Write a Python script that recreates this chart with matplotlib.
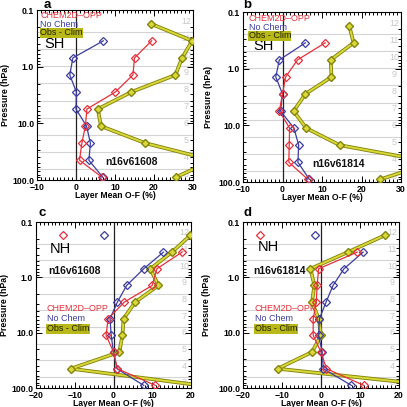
import numpy as np
import matplotlib
matplotlib.use("Agg")
import matplotlib.pyplot as plt
from matplotlib.ticker import MultipleLocator, LogLocator, NullFormatter

plt.rcParams['font.family'] = ['Liberation Sans', 'DejaVu Sans']

# SBUV layers (3 = bottom, 12 = top), plotted at layer mid pressures
layers = [3, 4, 5, 6, 7, 8, 9, 10, 11, 12]
p_mid = [89.7, 44.8, 22.4, 11.2, 5.6, 2.8, 1.4, 0.70, 0.35, 0.175]
p_edges = [63.3, 31.7, 15.8, 7.92, 3.96, 1.98, 0.99, 0.495, 0.247]

nan = np.nan
# panel a : SH n16v61608
a_chem = [6.7, 0.9, 1.5, 2.4, 2.8, 10.1, 14.6, 15.0, 19.4, nan]
a_nochem = [6.9, 3.3, 3.7, 2.7, 0.0, 0.1, -1.6, -0.8, 7.0, nan]
a_obs = [25.6, 35.0, 17.8, 6.4, 5.6, 14.2, 25.5, 27.2, 29.8, 19.2]
# panel b : SH n16v61814
b_chem = [6.4, 1.6, 1.7, 1.8, -0.8, 0.0, 0.8, 3.8, 10.8, nan]
b_nochem = [6.8, 3.9, 4.1, 2.9, -0.5, 0.0, -1.7, -0.8, 5.8, nan]
b_obs = [24.8, 38.0, 14.5, 6.0, 2.8, 5.8, 12.4, 12.2, 18.0, 16.9]
# panel c : NH n16v61608
c_chem = [10.8, 1.0, 0.0, -1.9, -1.4, 2.8, 10.0, 11.2, 17.7, -13.0]
c_nochem = [7.8, 0.9, 0.0, -0.6, -0.9, 1.0, 3.4, 7.8, 12.9, -2.4]
c_obs = [22.5, -11.0, 1.5, 2.3, 2.6, 5.6, 11.6, 9.5, 15.1, 19.8]
# panel d : NH n16v61814
d_chem = [11.0, 1.4, 0.0, -2.0, -2.0, -1.2, -1.0, -0.6, 9.3, -15.7]
d_nochem = [7.8, 0.6, 0.3, -0.6, -0.4, 1.3, 3.1, 5.9, 10.8, -1.6]
d_obs = [29.0, -11.1, -2.3, 0.0, -0.6, -2.3, -1.7, -2.7, 6.9, 16.3]

RED = '#e6303a'
BLUE = '#3c3ca0'
YEL = '#d8d838'
OLIVE = '#84840c'

W = 407.0


def pos(left, top, right, bottom):
    return [left / W, 1 - bottom / W, (right - left) / W, (bottom - top) / W]


def draw_panel(ax, box, ylab_x, xlab_y, chem, nochem, obs, xlim, hemi, run,
               hemi_xy, run_xy, leg_xy):
    left, top, right, bottom = box
    ax.set_yscale('log')
    ax.set_ylim(100, 0.1)
    ax.set_xlim(*xlim)
    for p in p_edges:
        ax.axhline(p, color='#d4d4d4', lw=0.8, zorder=1)
    ax.axvline(0, color='#202020', lw=0.9, zorder=2)

    # layer numbers on the right
    for lay, p in zip(layers, p_mid):
        ax.text(0.955, p, str(lay), transform=ax.get_yaxis_transform(),
                ha='center', va='baseline', fontsize=6.5, color='#c8c8c8', zorder=1)

    # obs - clim: thick yellow band with olive edges
    ax.plot(obs, p_mid, color=OLIVE, lw=2.7, zorder=3, solid_joinstyle='round')
    ax.plot(obs, p_mid, color=YEL, lw=1.4, zorder=3, solid_joinstyle='round')
    ax.plot(obs, p_mid, ls='none', marker='D', ms=4.2, mfc=YEL, mec=OLIVE, mew=1.0, zorder=4)

    for vals, col in [(nochem, BLUE), (chem, RED)]:
        ax.plot(vals[:9], p_mid[:9], color=col, lw=0.9, zorder=5)
        ax.plot(vals, p_mid, ls='none', marker='D', ms=3.9, mfc='none', mec=col, mew=0.9, zorder=6)

    ax.set_yticks([0.1, 1, 10, 100])
    ax.set_yticklabels(['0.1', '1.0', '10.0', '100.0'])
    ax.yaxis.set_minor_locator(LogLocator(base=10, subs=np.arange(2, 10)))
    ax.yaxis.set_minor_formatter(NullFormatter())
    ax.xaxis.set_major_locator(MultipleLocator(10))
    ax.xaxis.set_minor_locator(MultipleLocator(1))
    ax.tick_params(which='both', direction='in', top=True, right=True, width=0.7)
    ax.tick_params(which='major', length=4, labelsize=6.3, pad=2)
    ax.tick_params(which='minor', length=2)
    for lab in ax.get_xticklabels() + ax.get_yticklabels():
        lab.set_fontweight('bold')
    for s in ax.spines.values():
        s.set_linewidth(0.8)

    ax.set_xlabel('Layer Mean O-F (%)', fontsize=6.2, fontweight='bold')
    ax.set_ylabel('Pressure (hPa)', fontsize=6.3, fontweight='bold')
    # label positions (pixels)
    ax.yaxis.set_label_coords((ylab_x - left) / (right - left), 0.5)
    ax.xaxis.set_label_coords(0.5, (bottom - xlab_y) / (bottom - top))
    ax.xaxis.label.set_va('center')

    ax.text(hemi_xy[0], hemi_xy[1], hemi, transform=ax.transAxes, fontsize=10.5,
            va='center', ha='left', zorder=7)
    ax.text(run_xy[0], run_xy[1], run, transform=ax.transAxes, fontsize=7.5,
            fontweight='bold', va='center', ha='left', color='#101010', zorder=7)

    lx, ly, dy = leg_xy
    ax.text(lx, ly, 'CHEM2D\u2013OPP', transform=ax.transAxes, fontsize=6.5,
            color=RED, va='center', ha='left', zorder=7)
    ax.text(lx, ly - dy, 'No Chem', transform=ax.transAxes, fontsize=6.5,
            color=BLUE, va='center', ha='left', zorder=7)
    ax.text(lx, ly - 2 * dy, 'Obs - Clim', transform=ax.transAxes, fontsize=6.5,
            color='#202000', va='center', ha='left', zorder=7,
            bbox=dict(boxstyle='square,pad=0.05', fc='#b8b818', ec='none'))


fig = plt.figure(figsize=(4.07, 4.07), dpi=100)

box_a = (37, 10, 193, 180)
box_b = (243, 12, 401, 182)
box_c = (36, 222, 191, 388)
box_d = (243, 222, 399, 388)
ax_a = fig.add_axes(pos(*box_a))
ax_b = fig.add_axes(pos(*box_b))
ax_c = fig.add_axes(pos(*box_c))
ax_d = fig.add_axes(pos(*box_d))

draw_panel(ax_a, box_a, 10, 195, a_chem, a_nochem, a_obs, (-10, 30), 'SH', 'n16v61608',
           (0.05, 0.80), (0.436, 0.106), (0.02, 0.966, 0.05))
draw_panel(ax_b, box_b, 213, 197, b_chem, b_nochem, b_obs, (-10, 30),
           'SH', 'n16v61814', (0.063, 0.80), (0.44, 0.107), (0.035, 0.963, 0.052))
draw_panel(ax_c, box_c, 9, 403, c_chem, c_nochem, c_obs, (-20, 20), 'NH', 'n16v61608',
           (0.09, 0.837), (0.08, 0.705), (0.07, 0.48, 0.062))
draw_panel(ax_d, box_d, 211, 403, d_chem, d_nochem, d_obs, (-20, 20),
           'NH', 'n16v61814', (0.096, 0.85), (0.064, 0.707), (0.075, 0.48, 0.062))

for letter, x, y in [('a', 47, 5), ('b', 247, 5), ('c', 42, 213), ('d', 247, 213)]:
    fig.text(x / W, 1 - y / W, letter, fontsize=9.5, fontweight='bold', ha='center', va='center')

fig.savefig('out.png', dpi=100)
